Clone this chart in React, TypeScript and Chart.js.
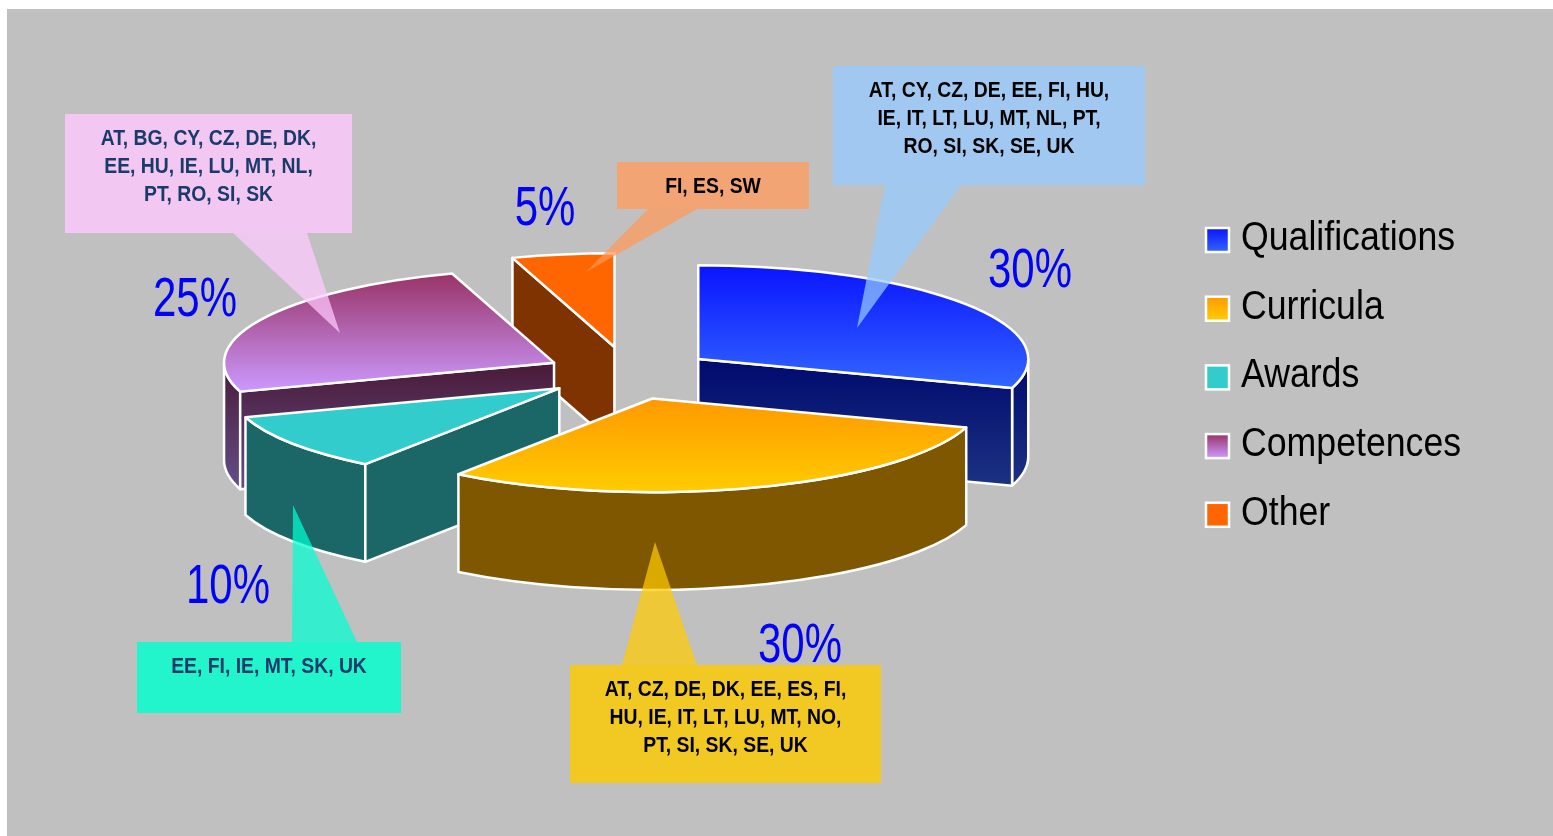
import React, { useEffect, useRef } from 'react';
import { Chart, registerables } from 'chart.js';

Chart.register(...registerables);

// ---------- data ----------
const categories = ['Qualifications', 'Curricula', 'Awards', 'Competences', 'Other'];
const shares = [30, 30, 10, 25, 5];
const percentLabels = ['30%', '30%', '10%', '25%', '5%'];
const qualificationsCountries = ['AT, CY, CZ, DE, EE, FI, HU,', 'IE, IT, LT, LU, MT, NL, PT,', 'RO, SI, SK, SE, UK'];
const curriculaCountries = ['AT, CZ, DE, DK, EE, ES, FI,', 'HU, IE, IT, LT, LU, MT, NO,', 'PT, SI, SK, SE, UK'];
const awardsCountries = ['EE, FI, IE, MT, SK, UK'];
const competencesCountries = ['AT, BG, CY, CZ, DE, DK,', 'EE, HU, IE, LU, MT, NL,', 'PT, RO, SI, SK'];
const otherCountries = ['FI, ES, SW'];
const countryLines = [qualificationsCountries, curriculaCountries, awardsCountries, competencesCountries, otherCountries];

// ---------- styles ----------
const topColors = [
  ['#0A14FF', '#3366FF'],
  ['#FF9900', '#FFCC00'],
  ['#33CCCC', '#33CCCC'],
  ['#993366', '#CC99FF'],
  ['#FF6600', '#FF6600'],
];
const wallColors = [
  ['#000A6E', '#1C3282'],
  ['#7F5700', '#7F5700'],
  ['#1B6666', '#1B6666'],
  ['#4A1A38', '#644E88'],
  ['#7F3300', '#7F3300'],
];
// explosion offset of each slice, as fractions of the ellipse radii [x, y]
const explodeOffset = [
  [0.225, -0.16],
  [0.086, 0.261],
  [-0.196, 0.153],
  [-0.212, -0.121],
  [-0.029, -0.288],
];
const TILT = 0.284;
const DEPTH = 0.296;
const BG_GRAY = 192;

const calloutFill = ['#A0C8F0', '#F2C822', '#22F5CC', '#F2C8F2', '#F2A474'];
const calloutTextColor = ['#000000', '#000000', '#1A3A6A', '#1A3A6A', '#000000'];
// [x, y, w, h] in canvas px
const calloutBoxes = [
  [826, 57, 312, 119],
  [563, 656, 311, 118],
  [130, 633, 264, 71],
  [58, 105, 287, 119],
  [610, 153, 192, 47],
];
// wedge: base x1, base x2, base y, tip x, tip y
const calloutWedges = [
  [878, 954, 176, 850, 319],
  [615, 690, 656, 648, 533],
  [285, 350, 633, 286, 496],
  [226, 300, 224, 333, 324],
  [641, 690, 200, 579, 263],
];
// percent label anchor: center x, baseline y
const percentPos = [
  [1023, 278],
  [793, 653],
  [221, 594],
  [188, 307],
  [538, 216],
];

const SANS = "'Liberation Sans', Arial, sans-serif";

function hexToRgb(h: string) {
  const n = parseInt(h.slice(1), 16);
  return [(n >> 16) & 255, (n >> 8) & 255, n & 255];
}
function wedgeColor(hex: string, a: number) {
  const c = hexToRgb(hex).map((v) => Math.max(0, Math.min(255, Math.round((v - (1 - a) * BG_GRAY) / a))));
  return `rgba(${c[0]},${c[1]},${c[2]},${a})`;
}

function scaledText(
  ctx: CanvasRenderingContext2D,
  text: string,
  x: number,
  y: number,
  font: string,
  sx: number,
  align: CanvasTextAlign
) {
  ctx.save();
  ctx.font = font;
  ctx.textAlign = align;
  ctx.textBaseline = 'alphabetic';
  ctx.translate(x, y);
  ctx.scale(sx, 1);
  ctx.fillText(text, 0, 0);
  ctx.restore();
}

const pie3d = {
  id: 'pie3d',
  afterDatasetsDraw(chart: any) {
    const ctx: CanvasRenderingContext2D = chart.ctx;
    const meta = chart.getDatasetMeta(0);
    const arcs = meta.data;
    if (!arcs || !arcs.length) return;
    const base = arcs[0].getProps(['x', 'y', 'outerRadius'], true);
    const cx = base.x, cy = base.y, rx = base.outerRadius;
    const ry = rx * TILT;
    const depth = rx * DEPTH;

    const slices = arcs.map((arc: any, i: number) => {
      const p = arc.getProps(['startAngle', 'endAngle'], true);
      return {
        i,
        a0: p.startAngle,
        a1: p.endAngle,
        sx: cx + explodeOffset[i][0] * rx,
        sy: cy + explodeOffset[i][1] * ry,
      };
    });
    slices.sort((a: any, b: any) => a.sy - b.sy);

    ctx.save();
    ctx.lineWidth = 2.5;
    ctx.strokeStyle = '#FFFFFF';
    ctx.lineJoin = 'round';

    const grad = (y0: number, y1: number, cols: string[]) => {
      const g = ctx.createLinearGradient(0, y0, 0, Math.max(y1, y0 + 1));
      g.addColorStop(0, cols[0]);
      g.addColorStop(1, cols[1]);
      return g;
    };

    for (const s of slices) {
      const { i, a0, a1, sx, sy } = s;
      const P = (t: number) => [sx + rx * Math.cos(t), sy + ry * Math.sin(t)];

      // outer rim wall (visible where sin > 0)
      const r0 = Math.max(a0, 0);
      const r1 = Math.min(a1, Math.PI);
      if (r1 > r0) {
        let maxSin = Math.max(Math.sin(r0), Math.sin(r1));
        if (r0 < Math.PI / 2 && r1 > Math.PI / 2) maxSin = 1;
        const minSin = Math.min(Math.sin(r0), Math.sin(r1));
        ctx.beginPath();
        ctx.ellipse(sx, sy, rx, ry, 0, r0, r1, false);
        ctx.ellipse(sx, sy + depth, rx, ry, 0, r1, r0, true);
        ctx.closePath();
        ctx.fillStyle = grad(sy + ry * minSin, sy + ry * maxSin + depth, wallColors[i]);
        ctx.fill();
        ctx.stroke();
      }

      // radial cut faces
      const radial = (t: number) => {
        const [px, py] = P(t);
        ctx.beginPath();
        ctx.moveTo(sx, sy);
        ctx.lineTo(px, py);
        ctx.lineTo(px, py + depth);
        ctx.lineTo(sx, sy + depth);
        ctx.closePath();
        ctx.fillStyle = grad(Math.min(sy, py), Math.max(sy, py) + depth, wallColors[i]);
        ctx.fill();
        ctx.stroke();
      };
      if (Math.cos(a0) < -1e-6) radial(a0);
      if (Math.cos(a1) > 1e-6) radial(a1);

      // top face
      let minY = sy, maxY = sy;
      for (let k = 0; k <= 40; k++) {
        const t = a0 + ((a1 - a0) * k) / 40;
        const y = sy + ry * Math.sin(t);
        minY = Math.min(minY, y);
        maxY = Math.max(maxY, y);
      }
      const [p0x, p0y] = P(a0);
      ctx.beginPath();
      ctx.moveTo(sx, sy);
      ctx.lineTo(p0x, p0y);
      ctx.ellipse(sx, sy, rx, ry, 0, a0, a1, false);
      ctx.closePath();
      ctx.fillStyle = grad(minY, maxY, topColors[i]);
      ctx.fill();
      ctx.stroke();
    }
    ctx.restore();
  },
  afterDraw(chart: any) {
    const ctx: CanvasRenderingContext2D = chart.ctx;
    ctx.save();

    // percent labels
    ctx.fillStyle = '#0202F8';
    percentLabels.forEach((txt, i) => {
      scaledText(ctx, txt, percentPos[i][0], percentPos[i][1], `56px ${SANS}`, 0.75, 'center');
    });

    // callouts
    categories.forEach((_, i) => {
      const [bx, by, bw, bh] = calloutBoxes[i];
      const [w1, w2, wy, tx, ty] = calloutWedges[i];
      ctx.beginPath();
      ctx.moveTo(w1, wy);
      ctx.lineTo(tx, ty);
      ctx.lineTo(w2, wy);
      ctx.closePath();
      ctx.fillStyle = wedgeColor(calloutFill[i], 0.72);
      ctx.fill();
      ctx.fillStyle = calloutFill[i];
      ctx.fillRect(bx, by, bw, bh);
      ctx.fillStyle = calloutTextColor[i];
      countryLines[i].forEach((line, k) => {
        scaledText(ctx, line, bx + bw / 2, by + 23.5 + k * 28 + 7.5, `bold 21.5px ${SANS}`, 0.9, 'center');
      });
    });

    // legend
    const lx = 1199, ly = 219, step = 68.7;
    categories.forEach((name, i) => {
      const y = ly + i * step;
      const g = ctx.createLinearGradient(0, y, 0, y + 24);
      g.addColorStop(0, topColors[i][0]);
      g.addColorStop(1, topColors[i][1]);
      ctx.fillStyle = g;
      ctx.fillRect(lx, y, 23, 24);
      ctx.lineWidth = 2.5;
      ctx.strokeStyle = '#FFFFFF';
      ctx.strokeRect(lx, y, 23, 24);
      ctx.fillStyle = '#000000';
      scaledText(ctx, name, 1234, y + 22, `41px ${SANS}`, 0.87, 'left');
    });
    ctx.restore();
  },
};

export default function App() {
  const ref = useRef<HTMLCanvasElement>(null);
  useEffect(() => {
    if (!ref.current) return;
    const chart = new Chart(ref.current, {
      type: 'pie',
      data: {
        labels: categories,
        datasets: [
          {
            data: shares,
            backgroundColor: 'rgba(0,0,0,0)',
            borderWidth: 0,
            hoverOffset: 0,
            radius: 330,
          } as any,
        ],
      },
      options: {
        animation: false,
        responsive: true,
        maintainAspectRatio: false,
        events: [],
        layout: { padding: { left: 0, right: 312, top: 0, bottom: 97 } },
        plugins: {
          legend: { display: false },
          tooltip: { enabled: false },
        },
      },
      plugins: [pie3d],
    });
    return () => chart.destroy();
  }, []);
  return (
    <div style={{ position: 'fixed', left: 0, top: 0, width: '100vw', height: '100vh', background: '#FFFFFF', overflow: 'hidden' }}>
      <div style={{ position: 'absolute', left: 7, top: 9, width: 1546, height: 827, background: '#C0C0C0' }}>
        <canvas ref={ref} />
      </div>
    </div>
  );
}
